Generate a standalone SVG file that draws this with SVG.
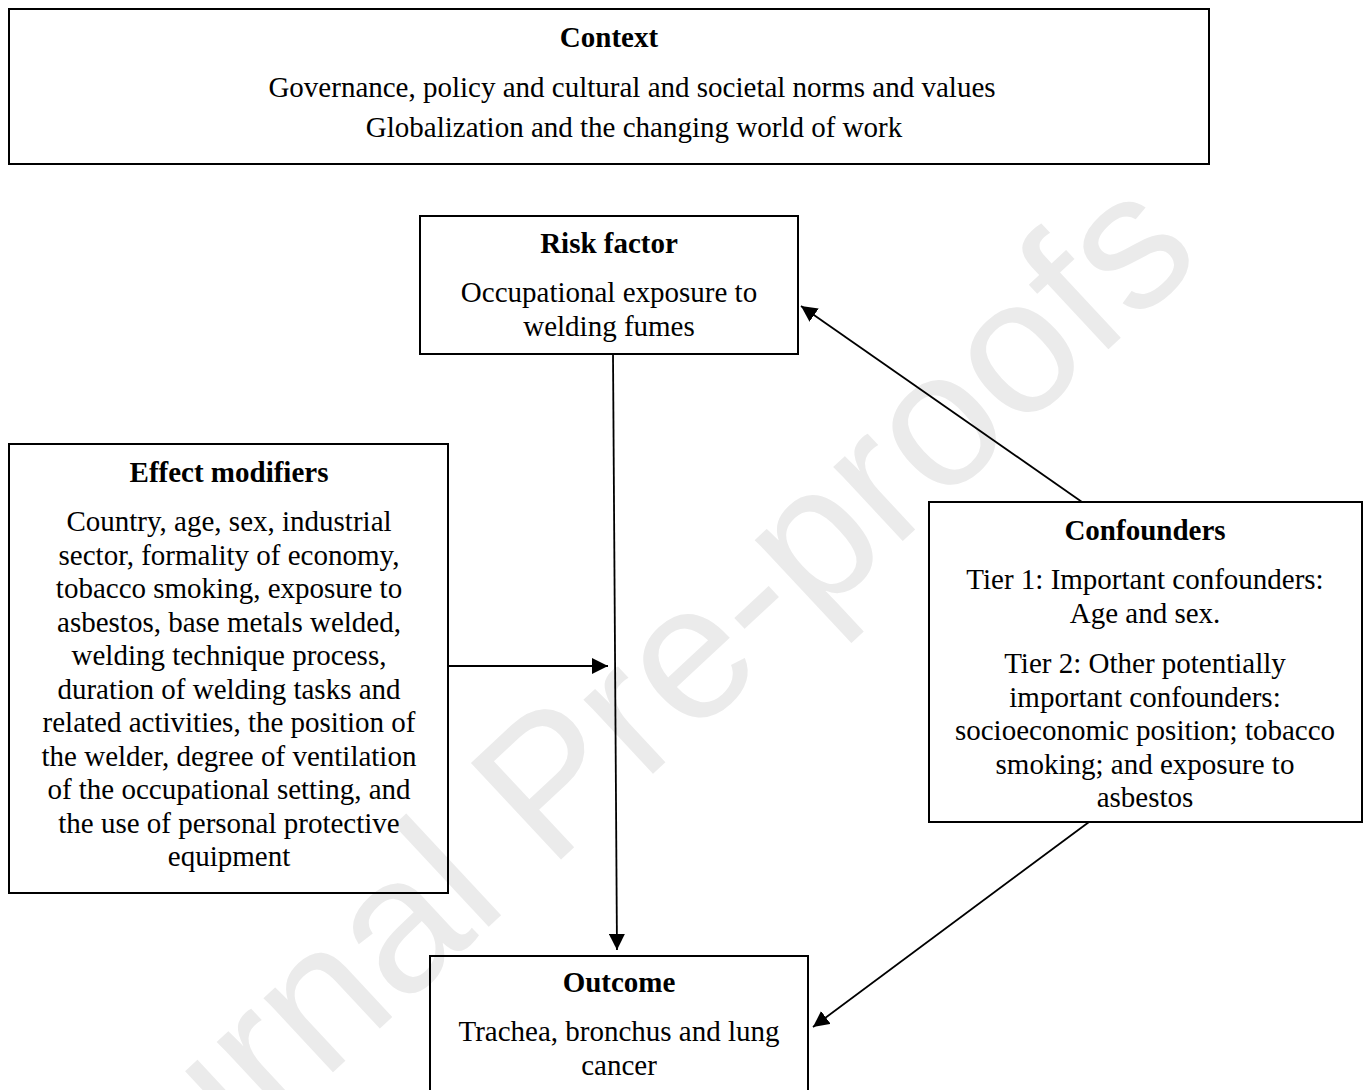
<svg xmlns="http://www.w3.org/2000/svg" width="1367" height="1090" viewBox="0 0 1367 1090">
<style>
.box{fill:none;stroke:#000;stroke-width:2}
.t{font-family:"Liberation Serif","Times New Roman",serif;font-size:29px;fill:#000;text-anchor:middle}
.b{font-weight:bold}
.conn{stroke:#000;stroke-width:1.8;fill:none}
.wm{font-family:"Liberation Sans",Arial,sans-serif;font-size:192px;fill:#ebebeb}
</style>
<defs>
<marker id="arr" markerUnits="userSpaceOnUse" markerWidth="16" markerHeight="16" viewBox="0 0 16 16" refX="16" refY="8" orient="auto">
<path d="M0,0 L16,8 L0,16 z" fill="#000"/>
</marker>
</defs>
<rect width="1367" height="1090" fill="#fff"/>
<g id="watermark">
<text class="wm" transform="translate(50,1336) rotate(-43)">Journal Pre-proofs</text>
</g>
<g id="context">
<rect class="box" x="9" y="9" width="1200" height="155"/>
<text class="t b" x="609" y="47">Context</text>
<text class="t" x="632" y="97">Governance, policy and cultural and societal norms and values</text>
<text class="t" x="634" y="137">Globalization and the changing world of work</text>
</g>
<g id="risk-factor">
<rect class="box" x="420" y="216" width="378" height="138"/>
<text class="t b" x="609" y="253">Risk factor</text>
<text class="t" x="609" y="302">Occupational exposure to</text>
<text class="t" x="609" y="335.5">welding fumes</text>
</g>
<g id="effect-modifiers">
<rect class="box" x="9" y="444" width="439" height="449"/>
<text class="t b" x="229" y="482">Effect modifiers</text>
<text class="t" x="229" y="531">Country, age, sex, industrial</text>
<text class="t" x="229" y="564.5">sector, formality of economy,</text>
<text class="t" x="229" y="598">tobacco smoking, exposure to</text>
<text class="t" x="229" y="631.5">asbestos, base metals welded,</text>
<text class="t" x="229" y="665">welding technique process,</text>
<text class="t" x="229" y="698.5">duration of welding tasks and</text>
<text class="t" x="229" y="732">related activities, the position of</text>
<text class="t" x="229" y="765.5">the welder, degree of ventilation</text>
<text class="t" x="229" y="799">of the occupational setting, and</text>
<text class="t" x="229" y="832.5">the use of personal protective</text>
<text class="t" x="229" y="866">equipment</text>
</g>
<g id="confounders">
<rect class="box" x="929" y="502" width="433" height="320"/>
<text class="t b" x="1145" y="540">Confounders</text>
<text class="t" x="1145" y="589">Tier 1: Important confounders:</text>
<text class="t" x="1145" y="622.5">Age and sex.</text>
<text class="t" x="1145" y="673">Tier 2: Other potentially</text>
<text class="t" x="1145" y="706.5">important confounders:</text>
<text class="t" x="1145" y="740">socioeconomic position; tobacco</text>
<text class="t" x="1145" y="773.5">smoking; and exposure to</text>
<text class="t" x="1145" y="807">asbestos</text>
</g>
<g id="outcome">
<rect class="box" x="430" y="956" width="378" height="150"/>
<text class="t b" x="619" y="992">Outcome</text>
<text class="t" x="619" y="1041">Trachea, bronchus and lung</text>
<text class="t" x="619" y="1074.5">cancer</text>
</g>
<g id="connectors">
<line class="conn" x1="613" y1="354" x2="617" y2="950" marker-end="url(#arr)"/>
<line class="conn" x1="448" y1="666" x2="608" y2="666" marker-end="url(#arr)"/>
<line class="conn" x1="1082" y1="502" x2="801" y2="306" marker-end="url(#arr)"/>
<line class="conn" x1="1089" y1="822" x2="813" y2="1027" marker-end="url(#arr)"/>
</g>
</svg>
